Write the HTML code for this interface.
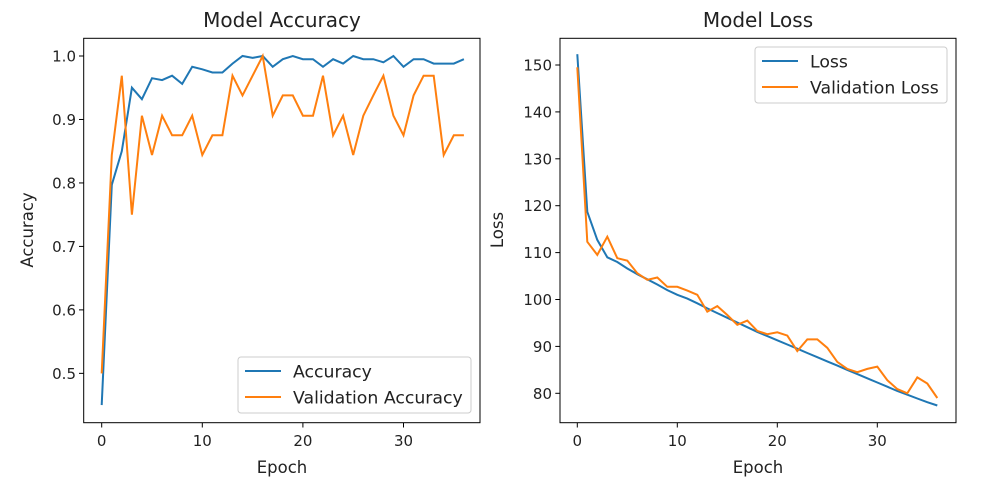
<!DOCTYPE html>
<html><head><meta charset="utf-8"><style>
html,body{margin:0;padding:0;background:#fff;}
svg text{font-family:"DejaVu Sans","Liberation Sans",sans-serif;fill:#222;}
</style></head><body>
<svg id="s" width="985" height="491" xmlns="http://www.w3.org/2000/svg">
<rect width="985" height="491" fill="#fff"/>
<text x="282" y="27" font-size="20" text-anchor="middle">Model Accuracy</text>
<rect x="83.7" y="38.3" width="396.3" height="384.4" fill="none" stroke="#000" stroke-width="1"/>
<g id="lt"></g>
<text x="282" y="473" font-size="16.5" text-anchor="middle">Epoch</text>
<text transform="translate(33,230) rotate(-90)" font-size="16.5" text-anchor="middle">Accuracy</text>
<polyline id="acc" fill="none" stroke="#1f77b4" stroke-width="2"/>
<polyline id="vacc" fill="none" stroke="#ff7f0e" stroke-width="2"/>
<rect x="238" y="357" width="233" height="56" rx="3" fill="#fff" fill-opacity="0.8" stroke="#ccc"/>
<line x1="245" y1="371" x2="281" y2="371" stroke="#1f77b4" stroke-width="2"/>
<line x1="245" y1="397" x2="281" y2="397" stroke="#ff7f0e" stroke-width="2"/>
<text x="293" y="377.5" font-size="17.3">Accuracy</text>
<text x="293" y="403.5" font-size="17.3">Validation Accuracy</text>
<text x="758" y="27" font-size="20" text-anchor="middle">Model Loss</text>
<rect x="560" y="38.3" width="396" height="384.4" fill="none" stroke="#000" stroke-width="1"/>
<g id="rt"></g>
<text x="758" y="473" font-size="16.5" text-anchor="middle">Epoch</text>
<text transform="translate(503,230) rotate(-90)" font-size="16.5" text-anchor="middle">Loss</text>
<polyline id="loss" fill="none" stroke="#1f77b4" stroke-width="2"/>
<polyline id="vloss" fill="none" stroke="#ff7f0e" stroke-width="2"/>
<rect x="755" y="47" width="192" height="56" rx="3" fill="#fff" fill-opacity="0.8" stroke="#ccc"/>
<line x1="762" y1="61" x2="798" y2="61" stroke="#1f77b4" stroke-width="2"/>
<line x1="762" y1="87" x2="798" y2="87" stroke="#ff7f0e" stroke-width="2"/>
<text x="810" y="67.5" font-size="17.3">Loss</text>
<text x="810" y="93.5" font-size="17.3">Validation Loss</text>
</svg>
<script>
var NS="http://www.w3.org/2000/svg";
function el(p,tag,a,t){var e=document.createElementNS(NS,tag);for(var k in a)e.setAttribute(k,a[k]);if(t!==undefined)e.textContent=t;p.appendChild(e);}
var acc=[0.45,0.797,0.85,0.95,0.932,0.965,0.962,0.969,0.956,0.983,0.979,0.974,0.974,0.988,1.0,0.997,1.0,0.983,0.995,1.0,0.995,0.995,0.983,0.995,0.988,1.0,0.995,0.995,0.99,1.0,0.983,0.995,0.995,0.988,0.988,0.988,0.995];
var vacc=[0.5,0.844,0.969,0.75,0.906,0.844,0.906,0.875,0.875,0.906,0.844,0.875,0.875,0.969,0.938,0.969,1.0,0.906,0.938,0.938,0.906,0.906,0.969,0.875,0.906,0.844,0.906,0.938,0.969,0.906,0.875,0.938,0.969,0.969,0.844,0.875,0.875];
var loss=[152.3,118.7,112.7,109,108,106.6,105.4,104.3,103.2,102,101,100.2,99.2,98.1,97.1,96.1,95.1,94.1,93.1,92.2,91.3,90.4,89.5,88.6,87.7,86.8,85.9,85.0,84.1,83.2,82.3,81.4,80.5,79.7,78.9,78.1,77.4];
var vloss=[149.5,112.3,109.5,113.4,108.8,108.3,105.6,104.2,104.7,102.7,102.7,101.9,101,97.4,98.6,96.7,94.6,95.5,93.3,92.6,93,92.3,89,91.5,91.5,89.7,86.7,85.2,84.5,85.2,85.7,82.8,80.9,80,83.4,82.1,79];
function lx(i){return 101.7+i*10.06;} function ly(v){return 56+(1-v)*634.7;}
function rx(i){return 577.3+i*10.0;} function ry(v){return 65+(150-v)*4.69;}
function pts(d,fx,fy){return d.map(function(v,i){return fx(i).toFixed(1)+","+fy(v).toFixed(1);}).join(" ");}
document.getElementById("acc").setAttribute("points",pts(acc,lx,ly));
document.getElementById("vacc").setAttribute("points",pts(vacc,lx,ly));
document.getElementById("loss").setAttribute("points",pts(loss,rx,ry));
document.getElementById("vloss").setAttribute("points",pts(vloss,rx,ry));
var lt=document.getElementById("lt"),rt=document.getElementById("rt");
[0,10,20,30].forEach(function(t){
 var x=lx(t);el(lt,"line",{x1:x,y1:422.7,x2:x,y2:427.5,stroke:"#000"});el(lt,"text",{x:x,y:446,"font-size":15,"text-anchor":"middle"},t);
 x=rx(t);el(rt,"line",{x1:x,y1:422.7,x2:x,y2:427.5,stroke:"#000"});el(rt,"text",{x:x,y:446,"font-size":15,"text-anchor":"middle"},t);
});
[0.5,0.6,0.7,0.8,0.9,1.0].forEach(function(t){var y=ly(t);el(lt,"line",{x1:79,y1:y,x2:83.7,y2:y,stroke:"#000"});el(lt,"text",{x:76,y:y+5.5,"font-size":15,"text-anchor":"end"},t.toFixed(1));});
[80,90,100,110,120,130,140,150].forEach(function(t){var y=ry(t);el(rt,"line",{x1:555.3,y1:y,x2:560,y2:y,stroke:"#000"});el(rt,"text",{x:552,y:y+5.5,"font-size":15,"text-anchor":"end"},t);});
</script>
</body></html>
